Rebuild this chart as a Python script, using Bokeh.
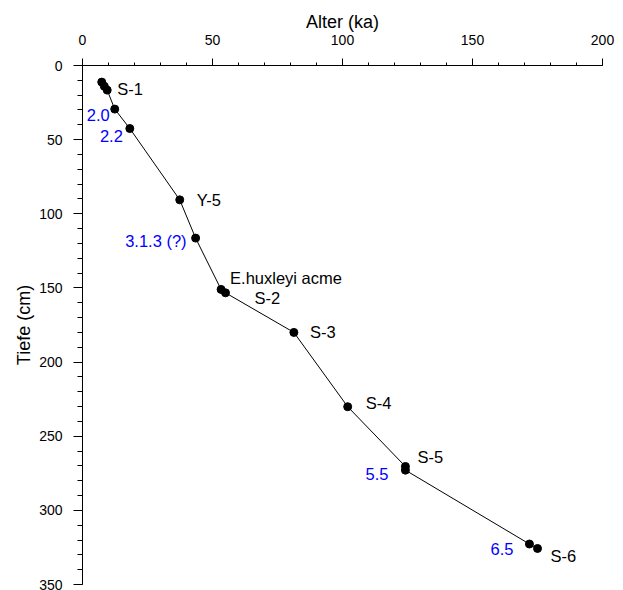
from bokeh.plotting import figure
from bokeh.models import Range1d, SingleIntervalTicker, ColumnDataSource
from bokeh.embed import file_html
from bokeh.resources import INLINE
from bokeh.core.properties import value

# Data (age in ka, depth in cm)
age = [7.4, 8.4, 9.5, 12.4, 18.2, 37.4, 43.5, 53.3, 55.0, 81.3, 102.0, 124.2, 124.2, 171.9, 175.0]
depth = [11.2, 14.0, 16.6, 29.4, 42.5, 90.6, 116.4, 151.0, 153.3, 180.0, 230.1, 270.4, 272.9, 322.7, 325.7]

# Labels: text, index of the point they belong to
label_text = ["S-1", "2.0", "2.2", "Y-5", "3.1.3 (?)", "E.huxleyi acme", "S-2", "S-3", "S-4", "S-5", "5.5", "6.5", "S-6"]
label_point = [2, 3, 4, 5, 6, 7, 8, 9, 10, 11, 12, 13, 14]
label_color = ["black", "blue", "blue", "black", "blue", "black", "black", "black", "black", "black", "blue", "blue", "black"]
label_align = ["left", "right", "right", "left", "right", "left", "left", "left", "left", "left", "right", "right", "left"]
label_dx = [10, -5, -7, 17, -9, 9, 29, 16, 18, 12, -17, -16, 13]
label_dy = [-1, 6, 7, 0, 3, -11, 5, 0, -4, -9, 4, 5, 8]

FONT = "Liberation Sans"

p = figure(width=615, height=590, output_backend="svg", toolbar_location=None,
           x_range=Range1d(0, 200), y_range=Range1d(350, 0),
           x_axis_location="above", y_axis_location="left",
           min_border_left=82, min_border_right=13, min_border_top=65, min_border_bottom=6)
p.outline_line_color = None
p.xgrid.visible = False
p.ygrid.visible = False
p.background_fill_color = "white"
p.border_fill_color = "white"

p.xaxis.ticker = SingleIntervalTicker(interval=50, num_minor_ticks=5)
p.yaxis.ticker = SingleIntervalTicker(interval=50, num_minor_ticks=5)
p.xaxis.axis_label = "Alter (ka)"
p.yaxis.axis_label = "Tiefe (cm)"

for ax in (p.xaxis, p.yaxis):
    ax.axis_label_text_font = FONT
    ax.axis_label_text_font_size = "18px"
    ax.axis_label_text_font_style = "normal"
    ax.axis_label_text_color = "black"
    ax.major_label_text_font = FONT
    ax.major_label_text_font_size = "14px"
    ax.major_label_text_color = "black"
    ax.axis_line_color = "black"
    ax.major_tick_line_color = "black"
    ax.minor_tick_line_color = "black"
    ax.major_tick_in = 0
    ax.minor_tick_in = 0

p.xaxis.major_tick_out = 7
p.xaxis.minor_tick_out = 3
p.xaxis.major_label_standoff = 14
p.xaxis.axis_label_standoff = 0
p.yaxis.major_tick_out = 9
p.yaxis.minor_tick_out = 5
p.yaxis.major_label_standoff = 11
p.yaxis.axis_label_standoff = 2

src = ColumnDataSource(dict(x=age, y=depth))
p.line("x", "y", source=src, line_color="black", line_width=1)
p.scatter("x", "y", source=src, size=8, fill_color="black", line_color="black")

lsrc = ColumnDataSource(dict(
    x=[age[i] for i in label_point],
    y=[depth[i] for i in label_point],
    text=label_text, color=label_color, align=label_align,
    dx=label_dx, dy=label_dy))
p.text("x", "y", text="text", source=lsrc, x_offset="dx", y_offset="dy",
       text_align="align", text_baseline="middle", text_color="color",
       text_font=value(FONT), text_font_size="16.5px")

open("out.html", "w").write(file_html(p, INLINE))
